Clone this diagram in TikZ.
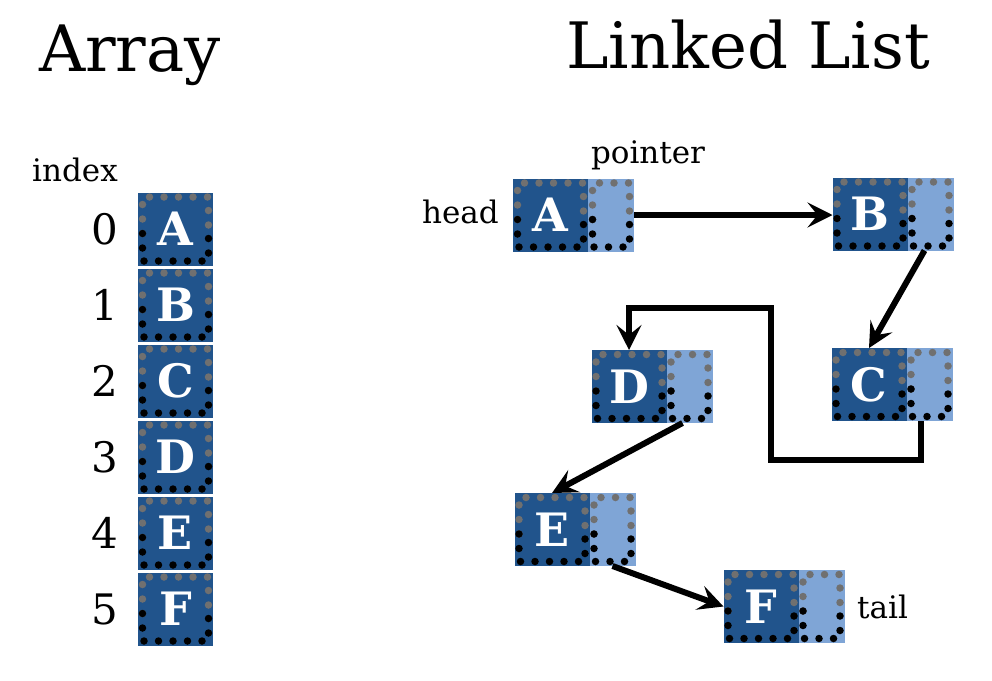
\documentclass[tikz,border=0pt]{standalone}
\usepackage{fontspec}
\setmainfont{DejaVu Serif}
\usepackage{xcolor}
\usetikzlibrary{arrows.meta}

\definecolor{cellblue}{RGB}{33,84,140}
\definecolor{ptrblue}{RGB}{127,165,214}
\definecolor{dottop}{RGB}{112,112,112}

\newcommand{\fsz}[1]{\fontsize{#1}{#1}\selectfont}

\tikzset{
  datacell/.style={rectangle, fill=cellblue, text=white,
                   minimum width=75, minimum height=73,
                   inner sep=0, outer sep=0, font=\fsz{46}\bfseries},
  ptrcell/.style={rectangle, fill=ptrblue, anchor=west,
                  minimum width=46, minimum height=73,
                  inner sep=0, outer sep=0},
  dotline/.style={line width=7.5pt, line cap=round,
                  dash pattern=on 0pt off 14.5pt},
  title/.style={font=\fsz{64}},
  tag/.style={font=\fsz{31}, inner sep=0},
  digit/.style={font=\fsz{42}, inner sep=0},
  link/.style={-{Stealth[length=25pt,width=25pt,inset=10pt]},
               line width=6pt, black}
}

\newcommand{\dotframe}[1]{%
  \draw[dotline, dottop] ([shift={(4.5,4.5)}]#1.west) -- ([shift={(4.5,4.5)}]#1.north west)
      -- ([shift={(-4.5,4.5)}]#1.north east) -- ([shift={(-4.5,4.5)}]#1.east);
  \draw[dotline, black] ([shift={(4.5,4.5)}]#1.west) -- ([shift={(4.5,-4.5)}]#1.south west)
      -- ([shift={(-4.5,-4.5)}]#1.south east) -- ([shift={(-4.5,4.5)}]#1.east);
}

\begin{document}
\begin{tikzpicture}[x=1pt, y=-1pt]
\useasboundingbox (0,0) rectangle (992,680);

\node[title] (arrtitle) at (130,55) {Array};
\node[title] (lltitle) at (748,45) {Linked List};

\node[tag] (idx) at (75,170) {index};
\foreach \l [count=\i from 0] in {A,B,C,D,E,F} {
  \node[datacell] (a\l) at (175.5,229+76*\i) {\l};
  \node[digit] (n\i) at (105,229+76*\i) {\i};
  \dotframe{a\l}
}

\node[datacell] (dA) at (550.5,215) {A};
\node[ptrcell] (pA) at (dA.east) {};
\node[datacell] (dB) at (870,214) {B};
\node[ptrcell] (pB) at (dB.east) {};
\node[datacell] (dC) at (869,384.5) {C};
\node[ptrcell] (pC) at (dC.east) {};
\node[datacell] (dD) at (629,386.5) {D};
\node[ptrcell] (pD) at (dD.east) {};
\node[datacell] (dE) at (552,529.5) {E};
\node[ptrcell] (pE) at (dE.east) {};
\node[datacell] (dF) at (761,606.5) {F};
\node[ptrcell] (pF) at (dF.east) {};

\dotframe{dA} \dotframe{pA}
\dotframe{dB} \dotframe{pB}
\dotframe{dC} \dotframe{pC}
\dotframe{dD} \dotframe{pD}
\dotframe{dE} \dotframe{pE}
\dotframe{dF} \dotframe{pF}

\node[tag] (ptrlbl) at (648,155) {pointer};
\node[tag, anchor=east] (head) at (499,212) {head};
\node[tag, anchor=west] (tail) at (857,607) {tail};

\coordinate (turnR) at (771,460);
\coordinate (turnL) at (771,308);

\draw[link] (pA.east) -- (pA.east -| dB.west);
\draw[link] ([xshift=-6pt]pB.south) -- (dC.north);
\draw[link] ([xshift=-9pt]pC.south) |- (turnR) -- (turnL) -| (dD.north);
\draw[link] ([xshift=-7pt]pD.south) -- (dE.north);
\draw[link] (pE.south) -- (dF.west);

\end{tikzpicture}
\end{document}
